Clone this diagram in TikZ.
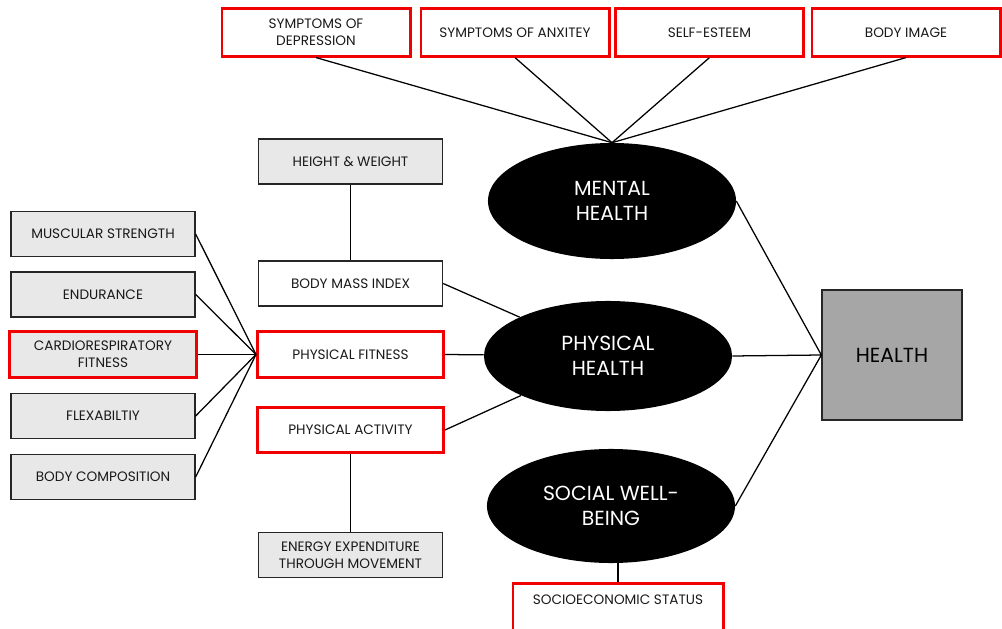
\documentclass[tikz,border=0pt]{standalone}
\usepackage{fontspec}
\setmainfont{Poppins}
\usetikzlibrary{shapes.geometric}
\definecolor{lightbox}{HTML}{E8E8E8}
\definecolor{healthgray}{HTML}{A6A6A6}
\definecolor{boxred}{HTML}{F00000}
\begin{document}
\begin{tikzpicture}[x=0.025cm,y=-0.025cm,
  box/.style={draw=black!85, line width=0.9pt, align=center, inner sep=0pt,
    font=\fontsize{9.7}{11.8}\selectfont, text=black!90},
  redbox/.style={box, draw=boxred, line width=2.1pt},
  topbox/.style={redbox, minimum width=4.7cm, minimum height=1.18cm},
  leftbox/.style={box, fill=lightbox, minimum width=4.6cm, minimum height=1.13cm},
  midbox/.style={box, minimum width=4.6cm, minimum height=1.13cm},
  oval/.style={ellipse, fill=black, inner sep=0pt, minimum width=6.2cm,
    minimum height=2.9cm, text=white, align=center,
    font=\fontsize{14.5}{17.5}\selectfont},
  link/.style={line width=0.9pt, black}]
\useasboundingbox (0,0) rectangle (1002,629);
\clip (0,0) rectangle (1002,629);

% top row
\node[topbox] (dep) at (316,32.5) {SYMPTOMS OF\\DEPRESSION};
\node[topbox] (anx) at (515,32.5) {SYMPTOMS OF ANXITEY};
\node[topbox] (se) at (709.5,32.5) {SELF-ESTEEM};
\node[topbox] (bi) at (906,32.5) {BODY IMAGE};

% ellipses
\node[oval] (mh) at (612,201) {MENTAL\\HEALTH};
\node[oval, minimum height=2.75cm] (ph) at (608,356) {PHYSICAL\\HEALTH};
\node[oval, minimum height=2.85cm] (sw) at (611,506) {SOCIAL WELL-\\BEING};

% health
\node[box, fill=healthgray, minimum width=3.5cm, minimum height=3.25cm,
  font=\fontsize{14.5}{17}\selectfont, text=black] (health) at (892,355) {HEALTH};

% left column
\node[leftbox] (ms) at (103,234) {MUSCULAR STRENGTH};
\node[leftbox] (en) at (103,294.5) {ENDURANCE};
\node[leftbox, draw=boxred, line width=2.1pt, minimum width=4.65cm] (cr) at (103,354.5) {CARDIORESPIRATORY\\FITNESS};
\node[leftbox] (fl) at (103,416) {FLEXABILTIY};
\node[leftbox] (bc) at (103,477) {BODY COMPOSITION};

% middle column
\node[midbox, fill=lightbox] (hw) at (350.5,161.5) {HEIGHT \& WEIGHT};
\node[midbox] (bmi) at (350.5,283.5) {BODY MASS INDEX};
\node[midbox, draw=boxred, line width=2.1pt, minimum width=4.65cm] (pf) at (350.5,354.5) {PHYSICAL FITNESS};
\node[midbox, draw=boxred, line width=2.1pt, minimum width=4.65cm] (pa) at (350.5,430) {PHYSICAL ACTIVITY};
\node[midbox, fill=lightbox] (ee) at (350.5,555) {ENERGY EXPENDITURE\\THROUGH MOVEMENT};

% socioeconomic (cut off at bottom)
\node[redbox, minimum width=5.25cm, minimum height=1.35cm, anchor=north] (ses) at (618,582) {};
\node[box, draw=none, anchor=center] (sestxt) at (618,600) {SOCIOECONOMIC STATUS};

% connectors
\draw[link] (dep.south) -- (mh.north);
\draw[link] (anx.south) -- (mh.north);
\draw[link] (se.south) -- (mh.north);
\draw[link] (bi.south) -- (mh.north);

\draw[link] (mh.east) -- (health.west);
\draw[link] (ph.east) -- (health.west);
\draw[link] (sw.east) -- (health.west);

\draw[link] (ms.east) -- (pf.west);
\draw[link] (en.east) -- (pf.west);
\draw[link] (cr.east) -- (pf.west);
\draw[link] (fl.east) -- (pf.west);
\draw[link] (bc.east) -- (pf.west);

\draw[link] (hw.south) -- (bmi.north);
\draw[link] (pa.south) -- (ee.north);
\draw[link] (bmi.east) -- (ph);
\draw[link] (pf.east) -- (ph);
\draw[link] (pa.east) -- (ph);

\draw[link] (ses.north) -- (ses.north |- sw.south);
\end{tikzpicture}
\end{document}
